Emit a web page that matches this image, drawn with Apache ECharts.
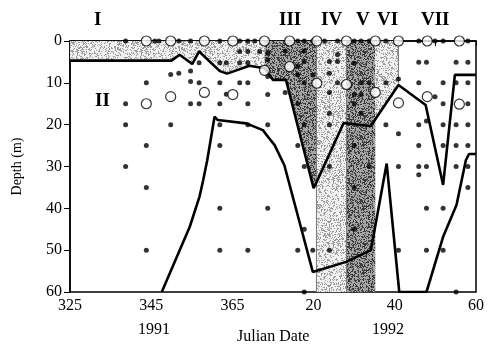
<!DOCTYPE html>
<html><head><meta charset="utf-8">
<script src="https://cdn.jsdelivr.net/npm/echarts@6/dist/echarts.min.js"></script>
<style>html,body{margin:0;padding:0;background:#fff}#c{width:487px;height:345px}</style>
</head><body><div id="c"></div>
<script>
// ---- axis ticks / labels ----
const xTickDays = [325,335,345,355,365,375,385,395,405,415,425];
const xLabelDays = [325,345,365,385,405,425];
const yTicks = [0,10,20,30,40,50,60];

// ---- upper boundary line (continuous Julian day, depth m) ----
const upperDays   = [325, 350.0, 352.0, 355.1, 356.8, 361.9, 363.7, 369.2, 372.9, 375.0, 378.2, 385.0, 385.7, 392.4, 393.1, 399.1, 400.2, 405.9, 412.6, 416.9, 419.8, 425];
const upperDepths = [4.7, 4.7,   3.3,   5.5,   2.5,   7.2,   7.8,   5.9,   6.5,   9.3,   9.3,   35.2,  33.8,  19.6,  19.7,  20.3,  18.7,  10.5,  15.3,  34.4,  8.1,   8.1];

// ---- lower boundary line ----
const lowerDays   = [347.6, 354.5, 356.9, 357.8, 358.8, 360.6, 361.4, 368.4, 372.5, 374.1, 375.4, 377.8, 384.8, 393.0, 399.1, 403.0, 406.1, 412.8, 416.9, 420.2, 422.5, 423.3, 425];
const lowerDepths = [60,    44.4,  37.2,  33.3,  28.5,  18.1,  18.9,  19.7,  21.3,  23.3,  24.9,  29.7,  55.2,  52.8,  50,    29.3,  60,    60,    46.8,  39.2,  28.5,  27,    27];

// ---- period boundaries (Julian day) ----
const periodI   = [325, 372.9];
const periodIII = [372.9, 385.7];
const periodIV  = [385.7, 393.1];
const periodV   = [393.1, 400.2];
const periodVI  = [400.2, 405.9];

// ---- sampling points (day, depth) ----
const sampleDots = [
 [338.7,0],[338.7,15],[338.7,20],[338.7,30],
 [343.8,10],[343.8,25],[343.8,35],[343.8,50],
 [345.9,0],[346.9,0],
 [349.8,8],[349.8,20],
 [351.8,0],[351.8,7.7],
 [354.7,0],[354.7,7.2],[354.7,9.7],[354.7,15],
 [356.8,5.2],[356.8,10],[356.8,15],
 [361.9,0],[361.9,5.2],[361.9,10],[361.9,15],[361.9,20],[361.9,25],[361.9,40],[361.9,50],
 [363.5,5.2],[363.5,12.7],
 [366.8,0],[366.8,2.5],[366.8,5.2],[366.8,10],
 [368.8,0],[368.8,2.5],[368.8,5.2],[368.8,10],[368.8,15],[368.8,20],[368.8,50],
 [370.5,0],[371.7,2.5],
 [373.7,2.9],[373.7,4.5],[373.7,8.5],[373.7,12.8],[373.7,20],[373.7,40],
 [378.0,2.4],[378.0,12.3],
 [381.1,0],[381.1,6.1],[381.1,8.1],[381.1,15],[381.1,25],[381.1,50],
 [382.7,0],[382.7,2.4],[382.7,4.9],[382.7,10],[382.7,20],[382.7,30],[382.7,45],[382.7,60],
 [384.8,0],[384.8,8.1],[384.8,50],
 [387.7,0],
 [388.9,4.9],[388.9,7.7],[388.9,12.3],[388.9,17.3],[388.9,20],[388.9,30],[388.9,50],
 [390.9,0],[390.9,3.2],[390.9,4.9],[390.9,10],
 [395.0,0],[395.0,5.3],[395.0,12.8],[395.0,15],[395.0,25],[395.0,35],[395.0,45],
 [396.7,0],[396.7,10],[396.7,12.8],[396.7,17.3],
 [398.7,0],[398.7,10],[398.7,30],
 [402.8,0],[402.8,10],[402.8,20],
 [405.9,9.1],[405.9,22.2],[405.9,30],[405.9,50],
 [410.9,0],[410.9,5.1],[410.9,10],[410.9,20],[410.9,25],[410.9,30],[410.9,32],
 [412.8,5.1],[412.8,19.1],[412.8,30],[412.8,40],[412.8,50],
 [414.9,0],[414.9,13.3],
 [416.9,0],[416.9,10],[416.9,15],[416.9,20],[416.9,25],[416.9,40],[416.9,50],
 [420.1,5.1],[420.1,10],[420.1,20],[420.1,25],[420.1,30],[420.1,60],
 [423.0,0],[423.0,5.1],[423.0,10],[423.0,15],[423.0,20],[423.0,25],[423.0,30],[423.0,35]
];
const openCircles = [
 [343.8,0],[343.8,15],[349.8,0],[349.8,13.3],[358.1,0],[358.1,12.3],[365.1,0],[365.1,12.8],
 [372.9,0],[372.9,7],[379.1,0],[379.1,6.1],[385.8,0],[385.8,10.1],[393.1,0],[393.1,10.4],
 [400.2,0],[400.2,12.3],[405.9,0],[405.9,14.8],[413.0,0],[413.0,13.3],[420.9,0],[420.9,15.1]
];
const periodLabels = ['I','II','III','IV','V','VI','VII'];

// ---- stipple textures ----
function stipple(base, speck, density, seed){
  const c = document.createElement('canvas'); c.width = 64; c.height = 64;
  const g = c.getContext('2d'); g.fillStyle = base; g.fillRect(0,0,64,64);
  g.fillStyle = speck; let s = seed >>> 0;
  for (let y=0;y<64;y++) for (let x=0;x<64;x++){
    s = (Math.imul(s,1664525) + 1013904223) >>> 0;
    if ((s >>> 8) / 16777216 < density) g.fillRect(x,y,1,1);
  }
  return {image: c, repeat: 'repeat'};
}
const lightFill = stipple('#f0f0f0', '#9a9a9a', 0.28, 12345);
const darkFill  = stipple('#a4a4a4', '#3c3c3c', 0.38, 6789);

function pts(days, depths, lo, hi){
  const out = [];
  for (let i=0;i<days.length;i++) if (days[i] >= lo - 1e-9 && days[i] <= hi + 1e-9) out.push([days[i], depths[i]]);
  return out;
}
function areaSeries(data, fill){
  return {type:'line', data, symbol:'none', silent:true, z:1, lineStyle:{width:0},
          areaStyle:{color: fill, opacity:1, origin:'start'}};
}
const edgeStyle = {color:'#777', width:1};
function vline(day, d0, d1){
  return {type:'line', data:[[day,d0],[day,d1]], symbol:'none', silent:true, z:2, lineStyle: edgeStyle};
}

const serif = '"Liberation Serif", "Times New Roman", serif';
const chart = echarts.init(document.getElementById('c'), null, {renderer:'canvas'});
chart.setOption({
  animation:false,
  grid:{left:70, right:10, top:41, bottom:53, show:true, borderColor:'#000', borderWidth:1.5, backgroundColor:'transparent'},
  xAxis:{type:'value', min:325, max:425,
    axisLine:{show:true, lineStyle:{color:'#000', width:1.5}},
    axisTick:{show:true, customValues:xTickDays, length:5, lineStyle:{color:'#000', width:1}},
    axisLabel:{customValues:xLabelDays, color:'#000', fontFamily:serif, fontSize:16, margin:6,
      formatter:v => String(v > 365 ? v - 365 : v)},
    splitLine:{show:false}},
  yAxis:{type:'value', inverse:true, min:0, max:60, interval:10,
    axisLine:{show:true, lineStyle:{color:'#000', width:1.5}},
    axisTick:{show:true, length:6, lineStyle:{color:'#000', width:1}},
    axisLabel:{color:'#000', fontFamily:serif, fontSize:16, margin:8},
    splitLine:{show:false},
    name:'Depth (m)', nameLocation:'middle', nameRotate:90, nameGap:46,
    nameTextStyle:{color:'#000', fontFamily:serif, fontSize:14}},
  series:[
    areaSeries(pts(upperDays, upperDepths, periodI[0], periodI[1]), lightFill),
    areaSeries(pts(upperDays, upperDepths, periodIII[0], periodIII[1]), darkFill),
    areaSeries(pts(upperDays, upperDepths, periodVI[0], periodVI[1]), lightFill),
    {type:'line', data:[], silent:true, z:1,
     markArea:{silent:true, data:[
       [{xAxis:periodIV[0], yAxis:0, itemStyle:{color:lightFill, opacity:1}}, {xAxis:periodIV[1], yAxis:60}],
       [{xAxis:periodV[0], yAxis:0, itemStyle:{color:darkFill, opacity:1}}, {xAxis:periodV[1], yAxis:60}]
     ]}},
    vline(periodIV[0], 0, 60), vline(periodIV[1], 0, 60), vline(periodVI[1], 0, 10.5),
    {type:'line', data: upperDays.map((d,i)=>[d, upperDepths[i]]), symbol:'none', z:3,
     lineStyle:{color:'#000', width:2.6}},
    {type:'line', data: lowerDays.map((d,i)=>[d, lowerDepths[i]]), symbol:'none', z:3,
     lineStyle:{color:'#000', width:2.6}},
    {type:'scatter', data: sampleDots, symbol:'circle', symbolSize:5, z:4,
     itemStyle:{color:'#000'}},
    {type:'scatter', data: openCircles, symbol:'circle', symbolSize:10, z:5,
     itemStyle:{color:'#fff', borderColor:'#000', borderWidth:1.2}}
  ],
  graphic:[
    {type:'text', left:94, top:11, style:{text:periodLabels[0], font:'bold 19px '+serif, fill:'#000'}},
    {type:'text', left:95, top:92, style:{text:periodLabels[1], font:'bold 19px '+serif, fill:'#000'}},
    {type:'text', left:279, top:11, style:{text:periodLabels[2], font:'bold 19px '+serif, fill:'#000'}},
    {type:'text', left:321, top:11, style:{text:periodLabels[3], font:'bold 19px '+serif, fill:'#000'}},
    {type:'text', left:356, top:11, style:{text:periodLabels[4], font:'bold 19px '+serif, fill:'#000'}},
    {type:'text', left:377, top:11, style:{text:periodLabels[5], font:'bold 19px '+serif, fill:'#000'}},
    {type:'text', left:421, top:11, style:{text:periodLabels[6], font:'bold 19px '+serif, fill:'#000'}},
    {type:'text', left:138, top:322, style:{text:'1991', font:'16px '+serif, fill:'#000'}},
    {type:'text', left:372, top:322, style:{text:'1992', font:'16px '+serif, fill:'#000'}},
    {type:'text', left:237, top:329, style:{text:'Julian Date', font:'16px '+serif, fill:'#000'}}
  ]
});
</script></body></html>
